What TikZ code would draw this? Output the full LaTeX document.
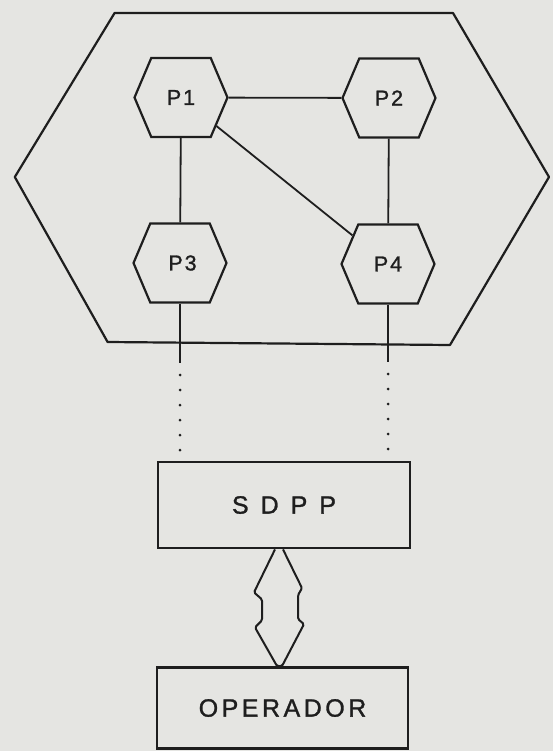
\documentclass[tikz,border=0pt]{standalone}
\usepackage{fontspec}
\setmainfont{Liberation Sans}
\usetikzlibrary{shapes.symbols,calc}
\definecolor{bg}{RGB}{229,229,226}
\definecolor{ink}{RGB}{30,30,30}
\begin{document}
\begin{tikzpicture}[x=1pt,y=-1pt,
  hexnode/.style={draw=ink, line width=2.2pt, signal, signal to=east and west,
    signal pointer angle=134, minimum width=93pt, minimum height=79pt,
    inner sep=0pt, text=ink, font=\fontsize{21.5}{21.5}\selectfont\addfontfeature{LetterSpace=9,FakeBold=1.2}},
  boxnode/.style={draw=ink, line width=2.8pt, rectangle, inner sep=0pt, text=ink,
    font=\fontsize{25}{25}\selectfont\addfontfeature{FakeBold=1.2}},
  link/.style={draw=ink, line width=1.8pt},
  dotline/.style={draw=ink, line width=3pt, line cap=round, dash pattern=on 0pt off 15pt},
  frame/.style={draw=ink, line width=2.2pt, line join=round},
  iface/.style={draw=ink, line width=2pt, rounded corners=1.5pt, line join=round}]
\fill[bg] (0,0) rectangle (553,751);
\useasboundingbox (0,0) rectangle (553,751);

% outer hexagon
\draw[frame] (114.6,13) -- (453,13) -- (549,177) -- (450,345) -- (107.6,342) -- (14.8,177) -- cycle;

% processors
\node[hexnode] (P1) at (181,97.5) {P1\hspace{12pt}};
\node[hexnode] (P2) at (389,98) {P2\hspace{6pt}};
\node[hexnode] (P3) at (180,263) {\hspace{5pt}P3};
\node[hexnode] (P4) at (388,264) {P4};

\draw[link] (P1) -- (P2);
\draw[link] (P1) -- (P3);
\draw[link] (P2) -- (P4);
\draw[link] (P1) -- (P4);

% boxes
\node[boxnode, minimum width=252pt, minimum height=86pt] (SDPP) at (284,505)
  {S\hspace{12pt}D\hspace{12pt}P\hspace{12pt}P\hspace{22pt}};
\node[boxnode, minimum width=251pt, minimum height=81pt] (OPER) at (282.5,708)
  {\addfontfeature{LetterSpace=14}OPERADOR\hspace{34pt}};

% lines to SDPP
\coordinate (s3) at (P3.south |- 0,363);
\coordinate (d3) at (P3.south |- 0,375);
\coordinate (s4) at (P4.south |- 0,362);
\coordinate (d4) at (P4.south |- 0,374);
\draw[link] (P3.south) -- (s3);
\draw[link] (P4.south) -- (s4);
\draw[dotline] (d3) -- (d3 |- SDPP.north);
\draw[dotline] (d4) -- (d4 |- SDPP.north);

% bidirectional interface
\draw[iface] ([xshift=-9pt]SDPP.south) -- ++(-21,43) -- ++(8,7) -- ++(0,21) -- ++(-7,7)
  -- ([xshift=-5.5pt]OPER.north) -- ([xshift=-0.5pt]OPER.north)
  -- ++(22,-42) -- ++(-6,-5) -- ++(0,-24) -- ++(4,-7) -- ([xshift=-1pt]SDPP.south);
\end{tikzpicture}
\end{document}
